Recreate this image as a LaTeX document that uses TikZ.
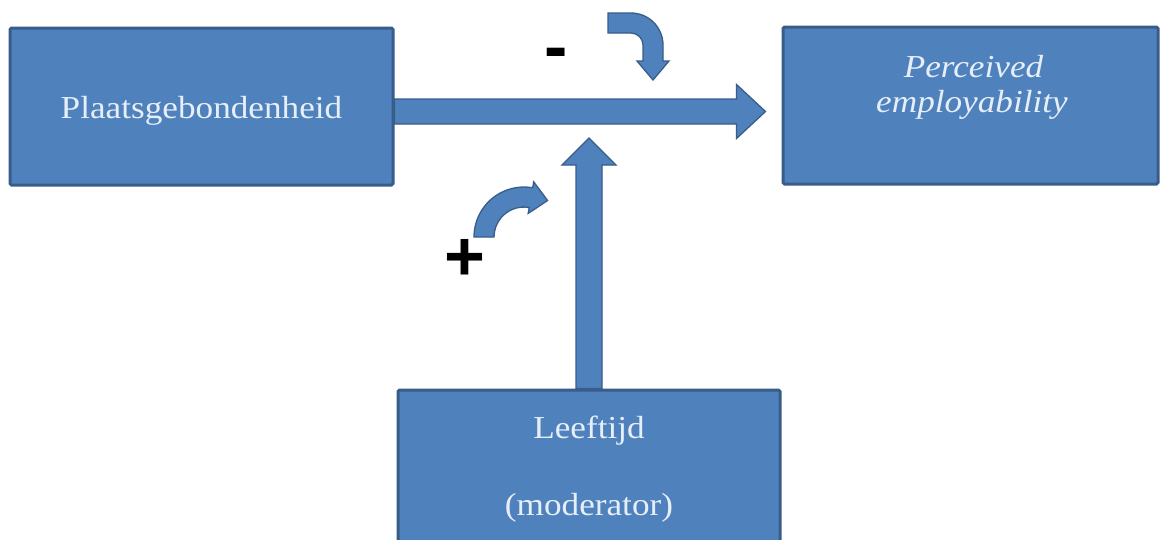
\documentclass[tikz,border=0pt]{standalone}
\usepackage{fontspec}
\setmainfont{Liberation Serif}[FakeStretch=1.1]
\newfontfamily\signfont{Liberation Sans}
\usetikzlibrary{calc,backgrounds}
\definecolor{boxfill}{HTML}{4F81BD}
\definecolor{boxline}{HTML}{385D8A}
\definecolor{txt}{HTML}{E6EEF8}
\begin{document}
\begin{tikzpicture}[x=1pt,y=1pt,
  box/.style={draw=boxline, fill=boxfill, line width=3pt, rounded corners=1.5pt, inner sep=0pt},
  lbl/.style={text=txt, font=\fontsize{32}{38}\selectfont, inner sep=0pt, anchor=base},
  blockarrow/.style={fill=boxfill, draw=boxline, line width=1.3pt, line join=miter},
  sign/.style={font=\signfont\bfseries\fontsize{70}{70}\selectfont, inner sep=0pt, text=black}]
\useasboundingbox (0,0) rectangle (1161,-539);
\begin{pgfonlayer}{background}
\fill[white] (0,0) rectangle (1161,-539);
\end{pgfonlayer}
% boxes
\node[box, minimum width=383, minimum height=157] (pg) at (201.5,-106.5) {};
\node[box, minimum width=375, minimum height=157] (pe) at (970.5,-105.5) {};
\node[box, minimum width=382, minimum height=180] (lt) at (589,-480) {};
% texts
\node[lbl] (pgt) at ($(pg.center)+(0,-11.5)$) {Plaatsgebondenheid};
\node[lbl, font=\fontsize{32}{38}\selectfont\itshape] (pet1) at ($(pe.center)+(3,28)$) {Perceived};
\node[lbl, font=\fontsize{32}{38}\selectfont\itshape] (pet2) at ($(pe.center)+(1.5,-6.5)$) {employability};
\node[lbl] (ltt1) at ($(lt.north)+(0,-50)$) {Leeftijd};
\node[lbl] (ltt2) at ($(lt.north)+(0,-127)$) {(moderator)};
% connectors (behind the boxes)
\coordinate (hs) at ($(pg.east)+(0,-5)$);
\coordinate (he) at ($(pe.west |- hs)+(-16,0)$);
\coordinate (vs) at (lt.north);
\coordinate (ve) at ($(hs -| lt.north)+(0,-26.5)$);
\begin{pgfonlayer}{background}
\path[blockarrow] ($(hs)+(0,12.5)$) -- ($(he)+(-29,12.5)$) -- ($(he)+(-29,27)$) -- (he)
  -- ($(he)+(-29,-27)$) -- ($(he)+(-29,-12.5)$) -- ($(hs)+(0,-12.5)$) -- cycle;
\path[blockarrow] ($(vs)+(-13,0)$) -- ($(ve)+(-13,-27)$) -- ($(ve)+(-27,-27)$) -- (ve)
  -- ($(ve)+(27,-27)$) -- ($(ve)+(13,-27)$) -- ($(vs)+(13,0)$) -- cycle;
\end{pgfonlayer}
% curved arrow (minus)
\path[blockarrow] (608,-13) -- (631,-13) arc[start angle=90,end angle=0,radius=32]
  -- (663,-61) -- (669,-61) -- (653,-80) -- (637,-61) -- (643,-61) -- (643,-45)
  arc[start angle=0,end angle=90,radius=12] -- (608,-33) -- cycle;
% curved arrow (plus)
\path[blockarrow] (474,-237) arc[start angle=180,end angle=80,radius=50]
  -- (533.7,-181.85) -- (547.6,-200.5) -- (528.2,-213.4) -- (529.2,-207.5)
  arc[start angle=80,end angle=180,radius=30] -- cycle;
% signs
\node[sign] (minus) at (556,-59) {-};
\node[sign] (plus) at (465,-260) {+};
\end{tikzpicture}
\end{document}
